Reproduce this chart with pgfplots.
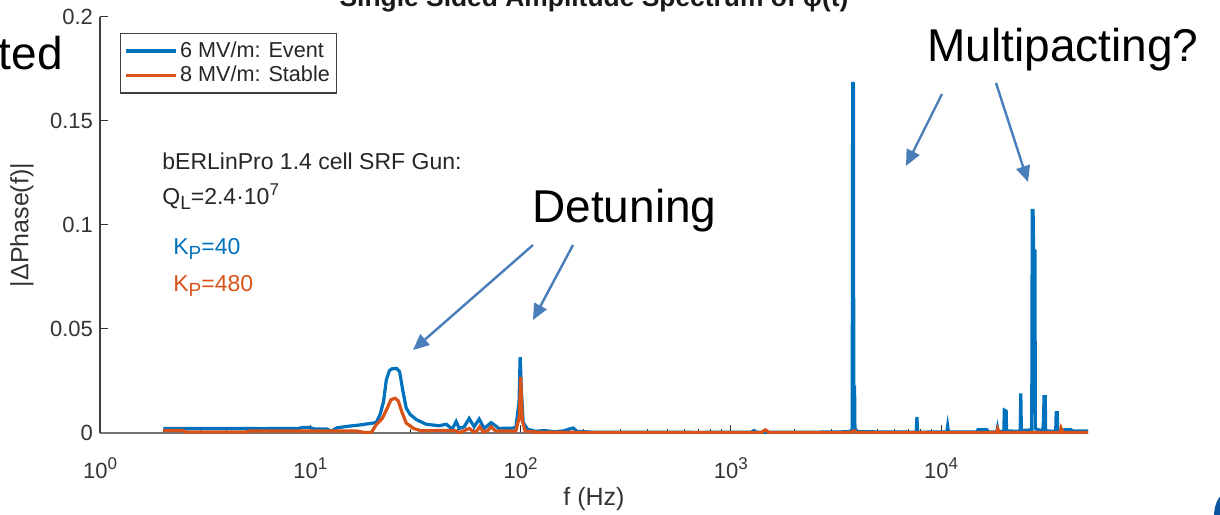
\documentclass[border=0pt]{standalone}
\usepackage{pgfplots}
\pgfplotsset{compat=1.18}
\usepackage{pgfplotstable}
\usepackage{fontspec}
\setmainfont{Liberation Sans}
\usetikzlibrary{arrows.meta}

\definecolor{mblue}{RGB}{0,114,189}
\definecolor{morange}{RGB}{217,83,25}
\definecolor{arrowblue}{RGB}{74,126,187}
\definecolor{hzb}{RGB}{12,84,160}

% large, lowered subscript as used in the parameter labels
\newcommand\sub[1]{\raisebox{-0.38ex}{\fontsize{9.5}{10}\selectfont #1}}
\newcommand\super[1]{\raisebox{0.75ex}{\fontsize{8.5}{9}\selectfont #1}}

% |Delta phase| spectrum, 6 MV/m (event)
\pgfplotstableread{
f v
2 0.0022
4 0.0022
6 0.0021
8.8 0.0022
9.2 0.0027
10 0.0026
10.4 0.0020
12 0.0019
12.6 0.0009
13.4 0.0025
15.3 0.0033
17 0.0038
19.1 0.0045
20.6 0.0050
21.5 0.0090
22.3 0.0150
23.0 0.0255
23.8 0.0300
24.5 0.0309
25.8 0.0310
26.6 0.0295
27.6 0.0200
28.6 0.0120
29.8 0.0090
32 0.0064
35.6 0.0042
41 0.0035
44.4 0.0042
47.3 0.0018
49.4 0.0055
51.1 0.0022
54 0.0030
57 0.0070
60.2 0.0030
63.6 0.0067
67.2 0.0022
72.5 0.0050
79 0.0022
95 0.0024
98.4 0.0150
99.6 0.0365
101 0.0200
103 0.0050
108 0.0018
118 0.0008
130 0.0012
145 0.0006
160 0.0010
172 0.0020
178 0.0024
186 0.0008
220 0.0004
400 0.0004
700 0.0003
1250 0.0004
1290 0.0012
1330 0.0004
2500 0.0004
3700 0.0006
3780 0.0020
3800 0.1680
3830 0.1680
3845 0.0220
3880 0.0220
3895 0.0020
4000 0.0006
6000 0.0005
7620 0.0004
7680 0.0077
7740 0.0004
10650 0.0005
10750 0.0034
10850 0.0005
14800 0.0005
15000 0.0016
16500 0.0016
16800 0.0005
18400 0.0005
18550 0.0024
18700 0.0005
19900 0.0010
20000 0.0110
20400 0.0105
20500 0.0010
23800 0.0008
23950 0.0190
24100 0.0012
27000 0.0015
27150 0.1070
27400 0.1070
27550 0.0875
27950 0.0875
28100 0.0020
30500 0.0010
30700 0.0063
30900 0.0175
31300 0.0175
31450 0.0010
35100 0.0008
35300 0.0097
35700 0.0097
35900 0.0008
38000 0.0010
38600 0.0016
41500 0.0016
42000 0.0010
50000 0.0010
}\eventdata

% |Delta phase| spectrum, 8 MV/m (stable)
\pgfplotstableread{
f v
2 0.0012
2.5 0.0012
2.55 0.0005
5 0.0005
5.1 0.0010
14 0.0010
16.5 0.0010
18.3 0.0002
19.5 0.0003
20.6 0.0040
22.0 0.0070
23.2 0.0118
24.2 0.0160
25.3 0.0167
26.2 0.0155
27.3 0.0100
28.6 0.0048
31 0.0022
33.5 0.0011
45 0.0012
49.5 0.0010
51 0.0002
53 0.0008
57 0.0022
60 0.0005
62 0.0010
64 0.0030
66.5 0.0005
70 0.0012
72.5 0.0030
76 0.0010
95 0.0010
98.7 0.0077
100.2 0.0270
102 0.0060
105 0.0010
120 0.0004
200 0.0003
500 0.0003
1400 0.0003
1460 0.0015
1520 0.0003
3700 0.0003
3850 0.0010
4000 0.0003
18400 0.0003
18600 0.0020
18900 0.0003
36800 0.0003
37200 0.0024
38000 0.0003
50000 0.0003
}\stabledata

\begin{document}
\begin{tikzpicture}[x=0.5pt,y=0.5pt]
\path[use as bounding box, clip] (0,0) rectangle (1220,514);

\begin{axis}[
  at={(50pt,40.5pt)}, anchor=south west,
  scale only axis, width=494pt, height=208pt,
  xmode=log, xmin=1, xmax=50000, ymin=0, ymax=0.2,
  axis x line*=bottom, axis y line*=left,
  x axis line style={-, black!55, line width=0.6pt},
  y axis line style={-, black!75, line width=0.6pt},
  tick align=inside,
  major tick length=4pt, minor tick length=2.2pt,
  tick style={black!80, line width=0.5pt},
  xtick={1,10,100,1000,10000},
  xticklabels={10\super{0},10\super{1},10\super{2},10\super{3},10\super{4}},
  minor xtick={2,3,4,5,6,7,8,9,20,30,40,50,60,70,80,90,200,300,400,500,600,700,800,900,2000,3000,4000,5000,6000,7000,8000,9000,20000,30000,40000},
  ytick={0,0.05,0.1,0.15,0.2},
  yticklabels={0,0.05,0.1,0.15,0.2},
  ticklabel style={font=\fontsize{11}{13}\selectfont, text=black!80},
  xticklabel style={yshift=-9pt},
  xlabel={f (Hz)},
  ylabel={|ΔPhase(f)|},
  label style={font=\fontsize{12.5}{14}\selectfont, text=black!80},
  xlabel style={at={(axis description cs:0.5,-0.158)}, anchor=center},
  ylabel style={at={(axis description cs:-0.079,0.5)}, anchor=center, rotate=0},
  legend style={at={(0.0202,0.9615)}, anchor=north west,
    draw=black!75, line width=0.6pt, fill=white,
    font=\fontsize{10.8}{12}\selectfont, text=black!85,
    inner xsep=2pt, inner ysep=2pt, row sep=-1pt,
    nodes={inner xsep=1.2pt, inner ysep=2pt}},
  legend image code/.code={\draw[#1] (0pt,0pt) -- (25pt,0pt);},
  legend cell align=left,
]
\addplot[mblue, line width=1.6pt] table[x=f, y=v] {\eventdata};
\addlegendentry{6 MV/m: Event}
\addplot[morange, line width=1.6pt] table[x=f, y=v] {\stabledata};
\addlegendentry{8 MV/m: Stable}
\end{axis}

% plot title
\node[anchor=base, font=\bfseries\fontsize{13.2}{15}\selectfont, text=black!90]
  at (594,507) {Single Sided Amplitude Spectrum of φ(t)};

% cavity parameters
\begin{scope}[every node/.style={anchor=base west, inner sep=0pt, font=\fontsize{11.5}{13}\selectfont}]
\node[text=black!85] at (162,344) {bERLinPro 1.4 cell SRF Gun:};
\node[text=black!85] at (162,309) {Q\sub{L}=2.4·10\super{7}};
\node[text=mblue] at (173,259) {K\sub{P}=40};
\node[text=morange] at (173,222) {K\sub{P}=480};
\end{scope}

% annotations
\begin{scope}[every node/.style={anchor=base west, inner sep=0pt, font=\fontsize{23}{26}\selectfont}]
\node at (532,291) {Detuning};
\node at (927,452) {Multipacting?};
\node[anchor=base east] at (63,444) {ted};
\end{scope}

\begin{scope}[arrowblue, line width=1.2pt, -{Triangle[length=8pt,width=7pt]}]
\draw (533,269) -- (413,164);
\draw (573,269) -- (533,194);
\draw (942,420) -- (906,348);
\draw (996,431) -- (1028,332);
\end{scope}

\fill[hzb] (1230,-2) ellipse [x radius=16, y radius=25];
\end{tikzpicture}
\end{document}
